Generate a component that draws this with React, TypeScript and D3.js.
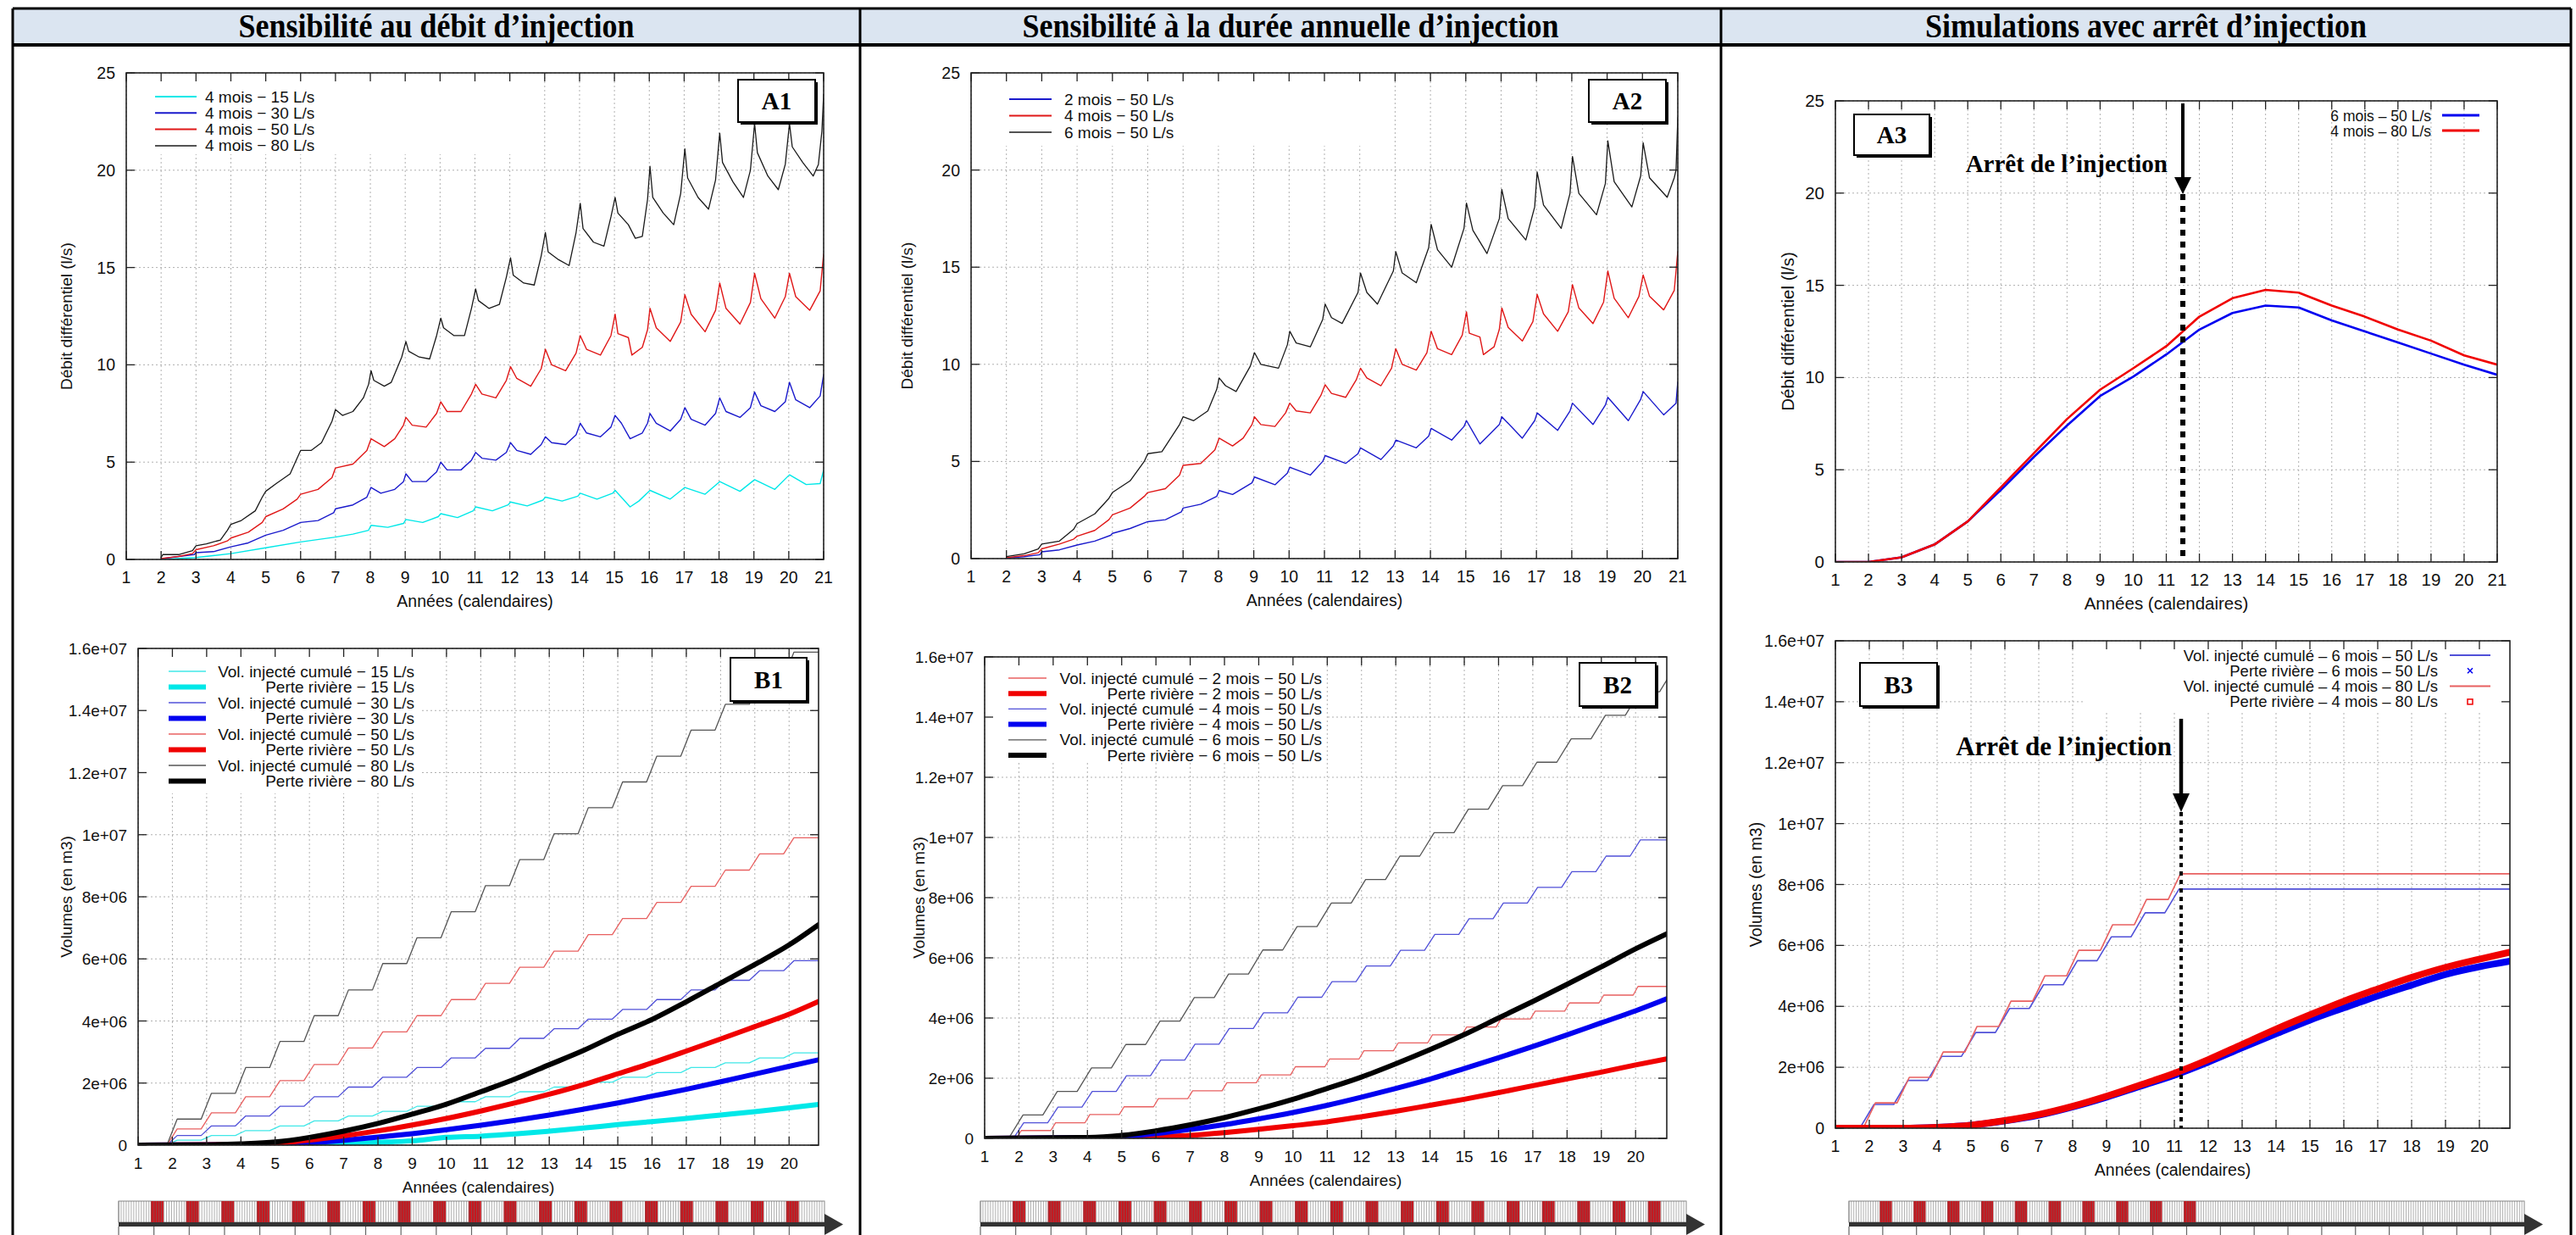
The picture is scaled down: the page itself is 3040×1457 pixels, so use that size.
import React from "react";
import * as d3 from "d3";

type Pt = [number, number];

const W = 3040;
const H = 1457;
const SANS = "'Liberation Sans', Arial, Helvetica, sans-serif";
const SERIF = "'Liberation Serif', 'Times New Roman', serif";

// ---------------- data ----------------
const columnTitles = [
	"Sensibilité au débit d’injection",
	"Sensibilité à la durée annuelle d’injection",
	"Simulations avec arrêt d’injection",
];

const xTicksA = [1, 2, 3, 4, 5, 6, 7, 8, 9, 10, 11, 12, 13, 14, 15, 16, 17, 18, 19, 20, 21];
const xTicksB = [1, 2, 3, 4, 5, 6, 7, 8, 9, 10, 11, 12, 13, 14, 15, 16, 17, 18, 19, 20];
const yTicksA = [0, 5, 10, 15, 20, 25];
const yTicksB = [0, 2, 4, 6, 8, 10, 12, 14, 16]; // millions of m3
const yTickLabelsB = ["0", "2e+06", "4e+06", "6e+06", "8e+06", "1e+07", "1.2e+07", "1.4e+07", "1.6e+07"];

// A1 - débit différentiel (l/s), 4 mois, different flow rates
const a1_15: Pt[] = [[2.0,0.0],[3.0,0.1],[4.0,0.3],[5.0,0.6],[6.0,0.9],[7.0,1.15],[7.5,1.3],[7.95,1.5],[8.02,1.75],[8.5,1.65],[8.95,1.85],[9.02,2.05],[9.5,1.9],[9.95,2.2],[10.02,2.35],[10.5,2.15],[10.95,2.5],[11.02,2.7],[11.5,2.5],[11.95,2.8],[12.02,2.95],[12.5,2.75],[12.95,3.05],[13.02,3.2],[13.5,3.0],[13.95,3.25],[14.02,3.4],[14.5,3.1],[14.95,3.4],[15.02,3.55],[15.45,2.7],[15.7,3.0],[16.02,3.55],[16.6,3.1],[17.02,3.7],[17.6,3.35],[18.02,4.0],[18.6,3.5],[19.02,4.1],[19.6,3.6],[20.02,4.35],[20.5,3.85],[20.9,3.9],[21.0,4.6]];
const a1_30: Pt[] = [[2.0,0.03],[2.5,0.15],[2.95,0.25],[3.0,0.35],[3.5,0.4],[4.0,0.65],[4.5,0.85],[5.0,1.25],[5.5,1.5],[6.0,1.9],[6.5,2.0],[6.95,2.4],[7.0,2.6],[7.5,2.8],[7.9,3.2],[8.02,3.7],[8.3,3.4],[8.7,3.6],[8.95,4.0],[9.02,4.4],[9.2,4.0],[9.6,4.0],[9.9,4.5],[10.02,5.0],[10.2,4.6],[10.6,4.6],[10.9,5.1],[11.02,5.5],[11.2,5.2],[11.6,5.1],[11.9,5.5],[12.02,6.0],[12.2,5.6],[12.6,5.4],[12.9,5.9],[13.02,6.3],[13.2,6.0],[13.6,5.9],[13.9,6.4],[14.02,7.0],[14.2,6.5],[14.6,6.3],[14.9,6.8],[15.02,7.4],[15.2,7.0],[15.45,6.2],[15.8,6.5],[15.95,7.0],[16.02,7.5],[16.2,7.0],[16.6,6.6],[16.9,7.2],[17.02,7.8],[17.2,7.2],[17.6,6.9],[17.9,7.5],[18.02,8.3],[18.2,7.6],[18.6,7.3],[18.9,7.8],[19.02,8.6],[19.2,7.9],[19.6,7.6],[19.9,8.1],[20.02,9.1],[20.2,8.2],[20.6,7.8],[20.9,8.4],[21.0,9.5]];
const a1_50: Pt[] = [[2.0,0.05],[2.5,0.15],[2.9,0.3],[3.0,0.5],[3.5,0.7],[3.9,0.95],[4.0,1.1],[4.5,1.4],[4.9,1.9],[5.0,2.2],[5.5,2.6],[5.9,3.1],[6.0,3.35],[6.5,3.6],[6.9,4.2],[7.0,4.7],[7.5,4.9],[7.9,5.6],[8.02,6.2],[8.4,5.8],[8.7,6.2],[8.95,6.9],[9.02,7.3],[9.2,6.9],[9.6,6.8],[9.9,7.5],[10.02,8.1],[10.2,7.6],[10.6,7.6],[10.9,8.5],[11.02,9.0],[11.2,8.5],[11.6,8.3],[11.9,9.2],[12.02,9.9],[12.2,9.3],[12.6,8.9],[12.9,9.8],[13.02,10.8],[13.2,10.0],[13.6,9.7],[13.9,10.6],[14.02,11.5],[14.2,10.8],[14.6,10.5],[14.9,11.5],[15.02,12.6],[15.1,11.6],[15.4,11.4],[15.5,10.5],[15.8,10.9],[15.95,11.8],[16.02,12.9],[16.2,11.9],[16.6,11.2],[16.9,12.2],[17.02,13.6],[17.2,12.6],[17.6,11.7],[17.9,12.8],[18.02,14.2],[18.2,12.9],[18.6,12.1],[18.9,13.2],[19.02,14.7],[19.2,13.4],[19.6,12.4],[19.9,13.5],[20.02,14.7],[20.2,13.5],[20.6,12.8],[20.9,13.8],[21.0,15.7]];
const a1_80: Pt[] = [[2.0,0.1],[2.05,0.25],[2.5,0.25],[2.9,0.45],[3.0,0.7],[3.3,0.8],[3.7,1.0],[3.9,1.5],[4.0,1.8],[4.3,2.0],[4.7,2.5],[4.9,3.2],[5.0,3.5],[5.3,3.9],[5.7,4.4],[5.9,5.2],[6.0,5.6],[6.3,5.6],[6.6,6.0],[6.9,7.1],[7.0,7.7],[7.2,7.4],[7.5,7.6],[7.8,8.3],[7.95,9.0],[8.02,9.7],[8.1,9.2],[8.4,8.9],[8.6,9.1],[8.9,10.4],[9.02,11.2],[9.1,10.7],[9.4,10.4],[9.7,10.3],[9.9,11.5],[10.02,12.4],[10.1,11.9],[10.4,11.5],[10.7,11.5],[10.9,12.9],[11.02,13.9],[11.1,13.3],[11.4,12.9],[11.7,13.1],[11.9,14.5],[12.02,15.5],[12.1,14.6],[12.4,14.2],[12.7,14.1],[12.9,15.6],[13.02,16.8],[13.1,15.8],[13.4,15.4],[13.7,15.1],[13.9,16.8],[14.02,18.3],[14.1,17.0],[14.4,16.3],[14.7,16.1],[14.9,17.6],[15.02,18.6],[15.1,17.8],[15.4,17.2],[15.6,16.5],[15.8,16.6],[15.95,18.5],[16.02,20.2],[16.1,18.6],[16.4,17.8],[16.7,17.2],[16.9,18.8],[17.02,21.1],[17.1,19.6],[17.4,18.6],[17.7,18.0],[17.9,19.5],[18.02,21.9],[18.1,20.4],[18.4,19.4],[18.7,18.6],[18.9,20.0],[19.02,22.4],[19.1,20.9],[19.4,19.7],[19.7,19.0],[19.9,20.3],[20.02,22.4],[20.1,21.2],[20.4,20.4],[20.7,19.7],[20.85,20.3],[20.95,22.0],[21.0,23.9]];

// A2 - 50 L/s, different durations
const a2_2m: Pt[] = [[2.0,0.03],[2.5,0.1],[2.95,0.2],[3.0,0.35],[3.5,0.45],[4.0,0.7],[4.5,0.9],[4.95,1.2],[5.0,1.3],[5.5,1.55],[6.0,1.9],[6.5,2.0],[6.95,2.4],[7.0,2.6],[7.5,2.8],[7.95,3.2],[8.02,3.5],[8.4,3.3],[8.95,3.9],[9.02,4.2],[9.6,3.8],[9.95,4.4],[10.02,4.7],[10.6,4.3],[10.95,5.0],[11.02,5.3],[11.6,4.9],[11.95,5.4],[12.02,5.7],[12.6,5.1],[12.95,5.8],[13.02,6.1],[13.6,5.7],[13.95,6.3],[14.02,6.7],[14.6,6.1],[14.95,6.8],[15.02,7.1],[15.4,5.9],[15.95,6.9],[16.02,7.3],[16.6,6.2],[16.95,7.1],[17.02,7.5],[17.6,6.6],[17.95,7.6],[18.02,8.0],[18.6,6.9],[18.95,7.9],[19.02,8.3],[19.6,7.1],[19.95,8.2],[20.02,8.6],[20.6,7.4],[20.95,8.0],[21.0,9.1]];
const a2_4m: Pt[] = [[2.0,0.05],[2.5,0.15],[2.9,0.3],[3.0,0.5],[3.5,0.75],[3.9,1.0],[4.0,1.15],[4.5,1.45],[4.9,2.0],[5.0,2.25],[5.5,2.6],[5.9,3.2],[6.0,3.4],[6.5,3.6],[6.9,4.3],[7.0,4.8],[7.5,4.9],[7.9,5.6],[8.02,6.2],[8.4,5.8],[8.7,6.2],[8.95,6.9],[9.02,7.3],[9.2,6.9],[9.6,6.8],[9.9,7.5],[10.02,8.0],[10.2,7.6],[10.6,7.5],[10.9,8.4],[11.02,8.95],[11.2,8.5],[11.6,8.3],[11.9,9.2],[12.02,9.8],[12.2,9.3],[12.6,8.9],[12.9,9.8],[13.02,10.8],[13.2,10.0],[13.6,9.7],[13.9,10.6],[14.02,11.7],[14.2,10.8],[14.6,10.5],[14.9,11.5],[15.02,12.7],[15.1,11.6],[15.4,11.4],[15.5,10.5],[15.8,10.9],[15.95,11.8],[16.02,12.9],[16.2,11.9],[16.6,11.2],[16.9,12.2],[17.02,13.6],[17.2,12.6],[17.6,11.7],[17.9,12.7],[18.02,14.1],[18.2,12.9],[18.6,12.1],[18.9,13.2],[19.02,14.8],[19.2,13.4],[19.6,12.4],[19.9,13.5],[20.02,14.6],[20.2,13.5],[20.6,12.8],[20.9,13.8],[21.0,15.8]];
const a2_6m: Pt[] = [[2.0,0.1],[2.5,0.25],[2.9,0.5],[3.0,0.75],[3.5,0.9],[3.9,1.5],[4.0,1.8],[4.5,2.3],[4.9,3.1],[5.0,3.4],[5.5,4.0],[5.9,5.0],[6.0,5.4],[6.4,5.5],[6.9,6.9],[7.0,7.3],[7.3,7.1],[7.7,7.6],[7.95,8.7],[8.02,9.3],[8.2,8.9],[8.5,8.6],[8.9,9.9],[9.02,10.6],[9.2,10.0],[9.7,9.8],[9.95,11.0],[10.02,11.7],[10.2,11.1],[10.6,10.9],[10.95,12.3],[11.02,13.1],[11.2,12.4],[11.5,12.1],[11.95,13.7],[12.02,14.7],[12.2,13.7],[12.5,13.1],[12.95,14.8],[13.02,15.8],[13.2,14.7],[13.6,14.2],[13.95,16.0],[14.02,17.2],[14.2,15.9],[14.6,15.0],[14.95,17.0],[15.02,18.3],[15.2,16.9],[15.6,15.7],[15.95,17.5],[16.02,19.0],[16.2,17.5],[16.7,16.4],[16.95,18.1],[17.02,19.9],[17.2,18.2],[17.7,17.0],[17.95,18.8],[18.02,20.7],[18.2,18.8],[18.7,17.7],[18.95,19.3],[19.02,21.5],[19.2,19.4],[19.7,18.1],[19.95,19.7],[20.02,21.4],[20.2,19.6],[20.7,18.6],[20.9,19.6],[20.95,20.0],[21.0,22.7]];

// A3 - stop of injection after year 11
const a3_6m50: Pt[] = [[1,0],[2,0],[3,0.25],[4,0.95],[5,2.2],[6,3.9],[7,5.7],[8,7.4],[9,9.0],[10,10.05],[11,11.25],[12,12.6],[13,13.5],[14,13.9],[15,13.8],[16,13.1],[17,12.5],[18,11.9],[19,11.3],[20,10.7],[21,10.15]];
const a3_4m80: Pt[] = [[1,0],[2,0],[3,0.25],[4,0.95],[5,2.2],[6,4.05],[7,5.9],[8,7.75],[9,9.34],[10,10.5],[11,11.7],[12,13.3],[13,14.3],[14,14.75],[15,14.6],[16,13.9],[17,13.3],[18,12.6],[19,12.0],[20,11.2],[21,10.7]];

// B - cumulative injected volume: plateau reached after each annual injection (millions m3)
const b1_inj15 = [0.16,0.31,0.47,0.62,0.78,0.94,1.09,1.25,1.4,1.56,1.72,1.87,2.03,2.19,2.34,2.5,2.65,2.81,2.97];
const b1_inj30 = [0.31,0.62,0.94,1.25,1.56,1.87,2.19,2.5,2.81,3.12,3.44,3.75,4.06,4.37,4.69,5.0,5.31,5.62,5.94];
const b1_inj50 = [0.52,1.04,1.56,2.08,2.6,3.13,3.65,4.17,4.69,5.21,5.73,6.25,6.78,7.3,7.82,8.34,8.86,9.38,9.9];
const b1_inj80 = [0.84,1.67,2.5,3.34,4.17,5.0,5.85,6.68,7.52,8.36,9.2,10.03,10.87,11.7,12.53,13.37,14.2,15.04,15.88];
// B - perte rivière (millions m3)
const b1_loss15: Pt[] = [[1,0],[6,0.02],[7,0.05],[8,0.09],[9,0.14],[10,0.25],[11,0.29],[12,0.36],[13,0.45],[14,0.55],[15,0.66],[16,0.76],[17,0.86],[18,0.97],[19,1.08],[20,1.2],[20.86,1.31]];
const b1_loss30: Pt[] = [[1,0],[5,0.03],[6,0.08],[7,0.16],[8,0.26],[9,0.37],[10,0.5],[11,0.64],[12,0.8],[13,0.97],[14,1.16],[15,1.36],[16,1.58],[17,1.8],[18,2.04],[19,2.29],[20,2.54],[20.86,2.75]];
const b1_loss50: Pt[] = [[1,0],[4,0.02],[5,0.06],[6,0.16],[7,0.3],[8,0.46],[9,0.65],[10,0.86],[11,1.1],[12,1.36],[13,1.64],[14,1.95],[15,2.3],[16,2.65],[17,3.03],[18,3.42],[19,3.82],[20,4.22],[20.86,4.63]];
const b1_loss80: Pt[] = [[1,0],[3,0.01],[4,0.04],[5,0.1],[6,0.25],[7,0.45],[8,0.7],[9,1.0],[10,1.32],[11,1.72],[12,2.13],[13,2.59],[14,3.05],[15,3.57],[16,4.05],[17,4.62],[18,5.22],[19,5.82],[20,6.45],[20.86,7.1]];

const b2_inj2m = [0.26,0.52,0.79,1.05,1.32,1.58,1.85,2.11,2.38,2.64,2.91,3.17,3.44,3.7,3.97,4.23,4.5,4.76,5.05];
const b2_inj4m = [0.52,1.04,1.56,2.08,2.6,3.13,3.65,4.17,4.69,5.21,5.73,6.25,6.78,7.3,7.82,8.34,8.86,9.38,9.92];
const b2_inj6m = [0.78,1.56,2.34,3.12,3.9,4.68,5.46,6.26,7.04,7.82,8.6,9.38,10.16,10.94,11.72,12.5,13.28,14.06,14.84,15.62];
const b2_loss2m: Pt[] = [[1,0],[5,0.02],[6,0.05],[7,0.1],[8,0.19],[9,0.3],[10,0.42],[11,0.55],[12,0.72],[13,0.9],[14,1.1],[15,1.3],[16,1.52],[17,1.75],[18,1.98],[19,2.2],[20,2.44],[20.91,2.64]];
const b2_loss4m: Pt[] = [[1,0],[4,0.02],[5,0.06],[6,0.16],[7,0.3],[8,0.46],[9,0.65],[10,0.86],[11,1.1],[12,1.37],[13,1.66],[14,1.97],[15,2.32],[16,2.68],[17,3.05],[18,3.44],[19,3.84],[20,4.24],[20.91,4.64]];
const b2_loss6m: Pt[] = [[1,0],[4,0.03],[5,0.1],[6,0.25],[7,0.45],[8,0.69],[9,0.98],[10,1.3],[11,1.66],[12,2.04],[13,2.48],[14,2.95],[15,3.45],[16,4.0],[17,4.55],[18,5.12],[19,5.7],[20,6.3],[20.91,6.8]];

const b3_inj6m50 = [0.78,1.57,2.36,3.14,3.93,4.71,5.5,6.28,7.07,7.85];
const b3_inj4m80 = [0.83,1.67,2.5,3.34,4.17,5.0,5.84,6.68,7.51,8.35];
const b3_loss6m50: Pt[] = [[1,0],[3,0.0],[4,0.03],[5,0.1],[6,0.24],[7,0.43],[8,0.7],[9,1.02],[10,1.38],[11,1.74],[12,2.17],[13,2.64],[14,3.1],[15,3.55],[16,3.95],[17,4.34],[18,4.7],[19,5.05],[20,5.3],[20.9,5.48]];
const b3_loss4m80: Pt[] = [[1,0],[3,0.0],[4,0.03],[5,0.1],[6,0.25],[7,0.45],[8,0.72],[9,1.05],[10,1.42],[11,1.8],[12,2.25],[13,2.75],[14,3.25],[15,3.72],[16,4.17],[17,4.57],[18,4.95],[19,5.28],[20,5.55],[20.9,5.78]];

// injection periods on the bottom time bars (year index from start of bar)
const injYearsFull = [1, 2, 3, 4, 5, 6, 7, 8, 9, 10, 11, 12, 13, 14, 15, 16, 17, 18, 19];
const injYearsStop = [1, 2, 3, 4, 5, 6, 7, 8, 9, 10];

// ---------------- helpers ----------------
// corner points of a stepped cumulative curve from its plateau levels
function steps(levels: number[], firstYear: number, r0: number, r1: number, xEnd: number): Pt[] {
	const pts: Pt[] = [[1, 0]];
	let prev = 0;
	levels.forEach((lv, i) => {
		const yr = firstYear + i;
		pts.push([yr + r0, prev], [yr + r1, lv]);
		prev = lv;
	});
	if (pts[pts.length - 1][0] < xEnd) pts.push([xEnd, prev]);
	return pts;
}

const C = {
	cyan: "#00e8e8",
	cyanL: "#40e8e8",
	blue: "#1a1acc",
	blueT: "#0000f0",
	blueL: "#5050d8",
	red: "#e01818",
	redT: "#f00000",
	redL: "#e86060",
	black: "#1a1a1a",
	grayL: "#555555",
};

type Series = { pts: Pt[]; color: string; width: number; smooth?: boolean };
type LegItem = { label: string; color: string; width: number; marker?: "x" | "sq" };
type Legend = { items: LegItem[]; anchor: "start" | "end"; tx: number; sx0: number; sx1: number; y0: number; dy: number; size: number; box?: number[] };
type Arrow = { x: number; top: number; tip: number; head: number; lineW: number; dotW: number; dash: string; tx: number; ty: number; size: number };
type PanelCfg = {
	id: string; x0: number; x1: number; y0: number; y1: number;
	xDomain: [number, number]; yDomain: [number, number];
	xTicks: number[]; yTicks: number[]; yLabels?: string[];
	yTitle: string; yTitleX: number; yTitleSize: number; tickSize: number;
	series: Series[]; legend: Legend; tag: { text: string; box: number[] }; arrow?: Arrow;
};

const dash = "\u2212";
const legA1: LegItem[] = [
	{ label: `4 mois ${dash} 15 L/s`, color: C.cyan, width: 2 },
	{ label: `4 mois ${dash} 30 L/s`, color: C.blue, width: 2 },
	{ label: `4 mois ${dash} 50 L/s`, color: C.red, width: 2 },
	{ label: `4 mois ${dash} 80 L/s`, color: C.black, width: 1.5 },
];
const legA2: LegItem[] = [
	{ label: `2 mois ${dash} 50 L/s`, color: C.blue, width: 2 },
	{ label: `4 mois ${dash} 50 L/s`, color: C.red, width: 2 },
	{ label: `6 mois ${dash} 50 L/s`, color: C.black, width: 1.5 },
];
const legA3: LegItem[] = [
	{ label: "6 mois – 50 L/s", color: C.blueT, width: 3 },
	{ label: "4 mois – 80 L/s", color: C.redT, width: 3 },
];
const legB1: LegItem[] = [
	{ label: `Vol. injecté cumulé ${dash} 15 L/s`, color: C.cyanL, width: 1.3 },
	{ label: `Perte rivière ${dash} 15 L/s`, color: C.cyan, width: 6 },
	{ label: `Vol. injecté cumulé ${dash} 30 L/s`, color: C.blueL, width: 1.3 },
	{ label: `Perte rivière ${dash} 30 L/s`, color: C.blueT, width: 6 },
	{ label: `Vol. injecté cumulé ${dash} 50 L/s`, color: C.redL, width: 1.3 },
	{ label: `Perte rivière ${dash} 50 L/s`, color: C.redT, width: 6 },
	{ label: `Vol. injecté cumulé ${dash} 80 L/s`, color: C.grayL, width: 1.3 },
	{ label: `Perte rivière ${dash} 80 L/s`, color: "#000", width: 6 },
];
const legB2: LegItem[] = [
	{ label: `Vol. injecté cumulé ${dash} 2 mois ${dash} 50 L/s`, color: C.redL, width: 1.3 },
	{ label: `Perte rivière ${dash} 2 mois ${dash} 50 L/s`, color: C.redT, width: 6 },
	{ label: `Vol. injecté cumulé ${dash} 4 mois ${dash} 50 L/s`, color: C.blueL, width: 1.3 },
	{ label: `Perte rivière ${dash} 4 mois ${dash} 50 L/s`, color: C.blueT, width: 6 },
	{ label: `Vol. injecté cumulé ${dash} 6 mois ${dash} 50 L/s`, color: C.grayL, width: 1.3 },
	{ label: `Perte rivière ${dash} 6 mois ${dash} 50 L/s`, color: "#000", width: 6 },
];
const legB3: LegItem[] = [
	{ label: "Vol. injecté cumulé – 6 mois – 50 L/s", color: C.blueL, width: 2 },
	{ label: "Perte rivière – 6 mois – 50 L/s", color: C.blueT, width: 0, marker: "x" },
	{ label: "Vol. injecté cumulé – 4 mois – 80 L/s", color: C.redL, width: 2 },
	{ label: "Perte rivière – 4 mois – 80 L/s", color: C.redT, width: 0, marker: "sq" },
];

const panels: PanelCfg[] = [
	{
		id: "A1", x0: 149, x1: 972, y0: 86, y1: 660, xDomain: [1, 21], yDomain: [0, 25],
		xTicks: xTicksA, yTicks: yTicksA, yTitle: "Débit différentiel (l/s)", yTitleX: 78, yTitleSize: 19, tickSize: 19.5,
		series: [
			{ pts: a1_15, color: C.cyan, width: 1.4 },
			{ pts: a1_30, color: C.blue, width: 1.4 },
			{ pts: a1_50, color: C.red, width: 1.4 },
			{ pts: a1_80, color: C.black, width: 1.3 },
		],
		legend: { items: legA1, anchor: "start", tx: 242, sx0: 183, sx1: 232, y0: 114, dy: 19.3, size: 19, box: [150, 87, 625, 182] },
		tag: { text: "A1", box: [871, 94, 962, 144] },
	},
	{
		id: "A2", x0: 1146, x1: 1980, y0: 86, y1: 659, xDomain: [1, 21], yDomain: [0, 25],
		xTicks: xTicksA, yTicks: yTicksA, yTitle: "Débit différentiel (l/s)", yTitleX: 1070, yTitleSize: 19, tickSize: 19.5,
		series: [
			{ pts: a2_2m, color: C.blue, width: 1.4 },
			{ pts: a2_4m, color: C.red, width: 1.4 },
			{ pts: a2_6m, color: C.black, width: 1.3 },
		],
		legend: { items: legA2, anchor: "start", tx: 1256, sx0: 1191, sx1: 1241, y0: 117, dy: 19.5, size: 19, box: [1147, 87, 1620, 172] },
		tag: { text: "A2", box: [1875, 94, 1966, 144] },
	},
	{
		id: "A3", x0: 2166, x1: 2947, y0: 119, y1: 663, xDomain: [1, 21], yDomain: [0, 25],
		xTicks: xTicksA, yTicks: yTicksA, yTitle: "Débit différentiel (l/s)", yTitleX: 2110, yTitleSize: 20.5, tickSize: 20.5,
		series: [
			{ pts: a3_6m50, color: C.blueT, width: 2.6 },
			{ pts: a3_4m80, color: C.redT, width: 2.6 },
		],
		legend: { items: legA3, anchor: "end", tx: 2869, sx0: 2882, sx1: 2926, y0: 136, dy: 18, size: 17.5 },
		tag: { text: "A3", box: [2188, 135, 2277, 183] },
		arrow: { x: 11.5, top: 122, tip: 229, head: 20, lineW: 4, dotW: 6, dash: "7,7", tx: 2558, ty: 203, size: 29 },
	},
	{
		id: "B1", x0: 163, x1: 966, y0: 765, y1: 1351, xDomain: [1, 20.86], yDomain: [0, 16],
		xTicks: xTicksB, yTicks: yTicksB, yLabels: yTickLabelsB, yTitle: "Volumes (en m3)", yTitleX: 78, yTitleSize: 19, tickSize: 19,
		series: [
			{ pts: steps(b1_inj15, 2, -0.16, 0.14, 20.86), color: C.cyanL, width: 1.3 },
			{ pts: b1_loss15, color: C.cyan, width: 6, smooth: true },
			{ pts: steps(b1_inj30, 2, -0.16, 0.14, 20.86), color: C.blueL, width: 1.3 },
			{ pts: b1_loss30, color: C.blueT, width: 6, smooth: true },
			{ pts: steps(b1_inj50, 2, -0.16, 0.14, 20.86), color: C.redL, width: 1.3 },
			{ pts: b1_loss50, color: C.redT, width: 6, smooth: true },
			{ pts: steps(b1_inj80, 2, -0.16, 0.14, 20.86), color: C.grayL, width: 1.3 },
			{ pts: b1_loss80, color: "#000", width: 6, smooth: true },
		],
		legend: { items: legB1, anchor: "end", tx: 489, sx0: 199, sx1: 243, y0: 792, dy: 18.5, size: 19, box: [164, 766, 495, 936] },
		tag: { text: "B1", box: [862, 776, 952, 827] },
	},
	{
		id: "B2", x0: 1162, x1: 1967, y0: 775, y1: 1343, xDomain: [1, 20.91], yDomain: [0, 16],
		xTicks: xTicksB, yTicks: yTicksB, yLabels: yTickLabelsB, yTitle: "Volumes (en m3)", yTitleX: 1084, yTitleSize: 19, tickSize: 19,
		series: [
			{ pts: steps(b2_inj2m, 2, -0.07, 0.07, 20.91), color: C.redL, width: 1.3 },
			{ pts: b2_loss2m, color: C.redT, width: 6, smooth: true },
			{ pts: steps(b2_inj4m, 2, -0.16, 0.14, 20.91), color: C.blueL, width: 1.3 },
			{ pts: b2_loss4m, color: C.blueT, width: 6, smooth: true },
			{ pts: steps(b2_inj6m, 2, -0.3, 0.12, 20.91), color: C.grayL, width: 1.3 },
			{ pts: b2_loss6m, color: "#000", width: 6, smooth: true },
		],
		legend: { items: legB2, anchor: "end", tx: 1560, sx0: 1190, sx1: 1235, y0: 800, dy: 18.2, size: 19, box: [1163, 776, 1565, 899] },
		tag: { text: "B2", box: [1864, 782, 1954, 833] },
	},
	{
		id: "B3", x0: 2166, x1: 2962, y0: 756, y1: 1331, xDomain: [1, 20.9], yDomain: [0, 16],
		xTicks: xTicksB, yTicks: yTicksB, yLabels: yTickLabelsB, yTitle: "Volumes (en m3)", yTitleX: 2072, yTitleSize: 19.5, tickSize: 19.5,
		series: [
			{ pts: steps(b3_inj6m50, 2, -0.28, 0.14, 20.9), color: C.blueL, width: 1.6 },
			{ pts: b3_loss6m50, color: C.blueT, width: 8, smooth: true },
			{ pts: steps(b3_inj4m80, 2, -0.18, 0.18, 20.9), color: C.redL, width: 1.6 },
			{ pts: b3_loss4m80, color: C.redT, width: 8, smooth: true },
		],
		legend: { items: legB3, anchor: "end", tx: 2877, sx0: 2891, sx1: 2939, y0: 773, dy: 18.3, size: 18.5, box: [2461, 757, 2961, 840] },
		tag: { text: "B3", box: [2195, 782, 2286, 833] },
		arrow: { x: 11.2, top: 848, tip: 958, head: 22, lineW: 4.5, dotW: 4, dash: "5,5", tx: 2563, ty: 891, size: 31 },
	},
];

// ---------------- components ----------------
function Panel({ p }: { p: PanelCfg }) {
	const x = d3.scaleLinear().domain(p.xDomain).range([p.x0, p.x1]);
	const y = d3.scaleLinear().domain(p.yDomain).range([p.y1, p.y0]);
	const lin = d3.line<Pt>().x((d) => x(d[0])).y((d) => y(d[1]));
	const smooth = d3.line<Pt>().x((d) => x(d[0])).y((d) => y(d[1])).curve(d3.curveMonotoneX);
	const clip = "clip-" + p.id;
	const tk = 10;
	const lg = p.legend;
	const [bx0, by0, bx1, by1] = p.tag.box;
	const a = p.arrow;
	return (
		<g>
			<defs>
				<clipPath id={clip}>
					<rect x={p.x0} y={p.y0} width={p.x1 - p.x0} height={p.y1 - p.y0} />
				</clipPath>
			</defs>
			<g stroke="#b0b0b0" strokeWidth={1} strokeDasharray="2,3">
				{p.xTicks.map((t) => (
					<line key={"gx" + t} x1={x(t)} x2={x(t)} y1={p.y0} y2={p.y1} />
				))}
				{p.yTicks.map((t) => (
					<line key={"gy" + t} x1={p.x0} x2={p.x1} y1={y(t)} y2={y(t)} />
				))}
			</g>
			{lg.box && <rect x={lg.box[0]} y={lg.box[1]} width={lg.box[2] - lg.box[0]} height={lg.box[3] - lg.box[1]} fill="#fff" />}
			<g clipPath={`url(#${clip})`}>
				{p.series.map((s, i) => (
					<path key={i} d={(s.smooth ? smooth : lin)(s.pts) || ""} fill="none" stroke={s.color} strokeWidth={s.width} strokeLinejoin="round" strokeLinecap="round" />
				))}
			</g>
			<g stroke="#222" strokeWidth={1.3}>
				{p.xTicks.map((t) => (
					<g key={"tx" + t}>
						<line x1={x(t)} x2={x(t)} y1={p.y1} y2={p.y1 - tk} />
						<line x1={x(t)} x2={x(t)} y1={p.y0} y2={p.y0 + tk} />
					</g>
				))}
				{p.yTicks.map((t) => (
					<g key={"ty" + t}>
						<line x1={p.x0} x2={p.x0 + tk} y1={y(t)} y2={y(t)} />
						<line x1={p.x1} x2={p.x1 - tk} y1={y(t)} y2={y(t)} />
					</g>
				))}
			</g>
			<rect x={p.x0} y={p.y0} width={p.x1 - p.x0} height={p.y1 - p.y0} fill="none" stroke="#222" strokeWidth={1.6} />
			<g fontFamily={SANS} fontSize={p.tickSize} fill="#111">
				{p.xTicks.map((t) => (
					<text key={"lx" + t} x={x(t)} y={p.y1 + 28} textAnchor="middle">{t}</text>
				))}
				{p.yTicks.map((t, i) => (
					<text key={"ly" + t} x={p.x0 - 13} y={y(t) + 7} textAnchor="end">{p.yLabels ? p.yLabels[i] : t}</text>
				))}
				<text x={(p.x0 + p.x1) / 2} y={p.y1 + 56} textAnchor="middle">Années (calendaires)</text>
				<text transform={`translate(${p.yTitleX},${(p.y0 + p.y1) / 2}) rotate(-90)`} textAnchor="middle" dy="0.35em" fontSize={p.yTitleSize}>{p.yTitle}</text>
			</g>
			<g fontFamily={SANS} fontSize={lg.size} fill="#111">
				{lg.items.map((it, i) => {
					const cy = lg.y0 + i * lg.dy;
					const mx = (lg.sx0 + lg.sx1) / 2;
					return (
						<g key={"lg" + i}>
							{it.marker === "x" ? (
								<path d={`M${mx - 3},${cy - 3}L${mx + 3},${cy + 3}M${mx - 3},${cy + 3}L${mx + 3},${cy - 3}`} stroke={it.color} strokeWidth={1.5} />
							) : it.marker === "sq" ? (
								<rect x={mx - 3} y={cy - 3} width={6} height={6} fill="none" stroke={it.color} strokeWidth={1.5} />
							) : (
								<line x1={lg.sx0} x2={lg.sx1} y1={cy} y2={cy} stroke={it.color} strokeWidth={it.width} />
							)}
							<text x={lg.tx} y={cy + 6.5} textAnchor={lg.anchor}>{it.label}</text>
						</g>
					);
				})}
			</g>
			<rect x={bx0 + 3} y={by0 + 3} width={bx1 - bx0} height={by1 - by0} fill="#000" />
			<rect x={bx0} y={by0} width={bx1 - bx0} height={by1 - by0} fill="#fff" stroke="#000" strokeWidth={2} />
			<text x={(bx0 + bx1) / 2} y={(by0 + by1) / 2 + 10} textAnchor="middle" fontFamily={SERIF} fontWeight="bold" fontSize={29}>{p.tag.text}</text>
			{a && (
				<g>
					<line x1={x(a.x)} x2={x(a.x)} y1={a.top} y2={a.tip - a.head + 2} stroke="#000" strokeWidth={a.lineW} />
					<path d={`M${x(a.x) - 10},${a.tip - a.head}L${x(a.x) + 10},${a.tip - a.head}L${x(a.x)},${a.tip}Z`} fill="#000" />
					<line x1={x(a.x)} x2={x(a.x)} y1={a.tip} y2={p.y1} stroke="#000" strokeWidth={a.dotW} strokeDasharray={a.dash} />
					<text x={a.tx} y={a.ty} textAnchor="end" fontFamily={SERIF} fontWeight="bold" fontSize={a.size}>Arrêt de l’injection</text>
				</g>
			)}
		</g>
	);
}

function TimeBar({ x0, cell, years, y }: { x0: number; cell: number; years: number[]; y: number }) {
	const n = 20;
	const xs = d3.scaleLinear().domain([0, n]).range([x0, x0 + cell * n]);
	const stripes = d3.range(0, n * 14).map((i) => xs(i / 14));
	const xe = xs(n);
	return (
		<g>
			<rect x={x0} y={y} width={xe - x0} height={25} fill="#fff" stroke="#888" strokeWidth={1} />
			{years.map((k) => (
				<rect key={"r" + k} x={xs(k - 0.09)} y={y} width={xs(k + 0.27) - xs(k - 0.09)} height={25} fill="#c8161e" />
			))}
			<g stroke="#6a6a6a" strokeWidth={0.7} opacity={0.75}>
				{stripes.map((sx, i) => (
					<line key={i} x1={sx} x2={sx} y1={y} y2={y + 25} />
				))}
			</g>
			<rect x={x0} y={y + 25} width={xe - x0} height={5} fill="#333" />
			<path d={`M${xe},${y + 15}L${xe + 22},${y + 27.5}L${xe},${y + 40}Z`} fill="#333" />
			<g stroke="#666" strokeWidth={1.2}>
				{d3.range(0, n).map((k) => (
					<line key={"t" + k} x1={xs(k)} x2={xs(k)} y1={y + 30} y2={H} />
				))}
			</g>
		</g>
	);
}

export default function App() {
	const colX = [15, 1015, 2031, 3034];
	return (
		<svg width={W} height={H} viewBox={`0 0 ${W} ${H}`} style={{ position: "absolute", left: 0, top: 0, background: "#fff" }}>
			<rect x={0} y={0} width={W} height={H} fill="#fff" />
			<rect x={colX[0]} y={10} width={colX[3] - colX[0]} height={42} fill="#dbe5f1" />
			{columnTitles.map((t, i) => (
				<text key={t} transform={`translate(${(colX[i] + colX[i + 1]) / 2},44) scale(0.9,1)`} textAnchor="middle" fontFamily={SERIF} fontWeight="bold" fontSize={40}>{t}</text>
			))}
			{panels.map((p) => (
				<Panel key={p.id} p={p} />
			))}
			<TimeBar x0={140} cell={41.65} years={injYearsFull} y={1417} />
			<TimeBar x0={1157} cell={41.65} years={injYearsFull} y={1417} />
			<TimeBar x0={2182} cell={39.85} years={injYearsStop} y={1417} />
			<g stroke="#000" strokeWidth={3} fill="none">
				<line x1={colX[0]} x2={colX[3]} y1={10} y2={10} />
				<line x1={colX[0]} x2={colX[3]} y1={53} y2={53} strokeWidth={4} />
				{colX.map((cx) => (
					<line key={cx} x1={cx} x2={cx} y1={10} y2={H} />
				))}
			</g>
		</svg>
	);
}
